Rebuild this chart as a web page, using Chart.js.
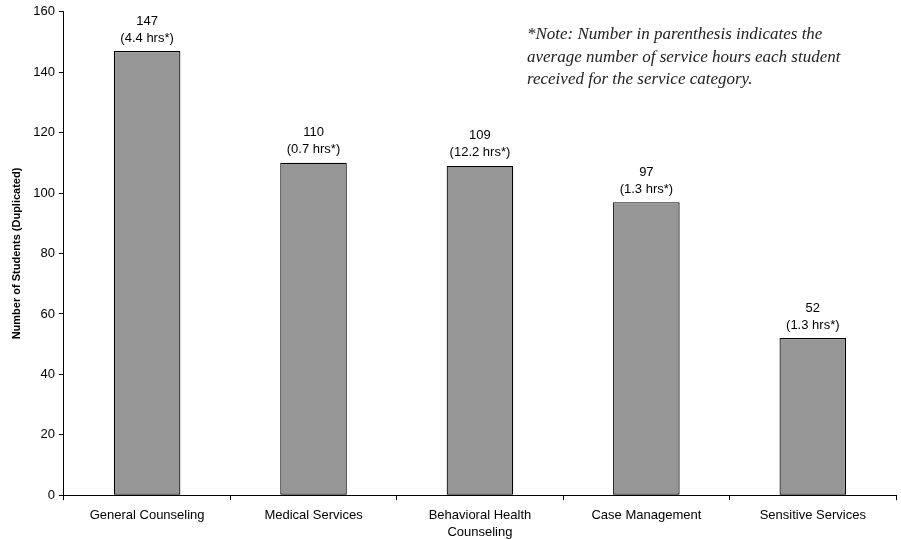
<!DOCTYPE html>
<html>
<head>
<meta charset="utf-8">
<script src="https://cdn.jsdelivr.net/npm/chart.js@4/dist/chart.umd.min.js"></script>
<style>
  html, body { margin: 0; padding: 0; background: #fff; }
  #wrap { width: 901px; height: 539px; }
</style>
</head>
<body>
<div id="wrap"><canvas id="graficoServicos"></canvas></div>
<script>
const categories = ['General Counseling', 'Medical Services', ['Behavioral Health', 'Counseling'], 'Case Management', 'Sensitive Services'];
const students = [147, 110, 109, 97, 52];
const avgHours = ['4.4', '0.7', '12.2', '1.3', '1.3'];
const noteLines = [
  '*Note: Number in parenthesis indicates the',
  'average number of service hours each student',
  'received for the service category.'
];

// labels above the bars: count + average hours
const barLabels = {
  id: 'barLabels',
  afterDatasetsDraw(chart) {
    const c = chart.ctx;
    const meta = chart.getDatasetMeta(0);
    c.save();
    c.font = '13px "Liberation Sans", Arial, sans-serif';
    c.fillStyle = '#000';
    c.textAlign = 'center';
    c.textBaseline = 'middle';
    meta.data.forEach((bar, i) => {
      c.fillText(String(students[i]), bar.x, bar.y - 30);
      c.fillText('(' + avgHours[i] + ' hrs*)', bar.x, bar.y - 13);
    });
    c.restore();
  }
};

const note = {
  id: 'note',
  afterDraw(chart) {
    const c = chart.ctx;
    c.save();
    c.font = 'italic 17px "Liberation Serif", "Times New Roman", serif';
    c.fillStyle = '#222';
    c.textAlign = 'left';
    c.textBaseline = 'middle';
    noteLines.forEach((t, i) => c.fillText(t, 527, 35 + i * 22.5));
    c.restore();
  }
};

const ctx = document.getElementById('graficoServicos');
new Chart(ctx, {
  type: 'bar',
  data: {
    labels: categories,
    datasets: [{
      data: students,
      backgroundColor: '#969696',
      borderColor: '#000',
      borderWidth: 1.2,
      borderSkipped: false,
      categoryPercentage: 1,
      barPercentage: 0.4
    }]
  },
  options: {
    responsive: true,
    maintainAspectRatio: false,
    animation: false,
    layout: { padding: { top: 5, right: 5, left: 6, bottom: -9 } },
    plugins: { legend: { display: false }, tooltip: { enabled: false } },
    scales: {
      x: {
        grid: { drawOnChartArea: false, drawTicks: true, tickLength: 5, color: '#000', offset: true },
        border: { color: '#000', width: 1 },
        ticks: { color: '#000', font: { family: '"Liberation Sans", Arial, sans-serif', size: 13, lineHeight: 1.3 }, maxRotation: 0, autoSkip: false, padding: 7 }
      },
      y: {
        min: 0,
        max: 160,
        grid: { drawOnChartArea: false, drawTicks: true, tickLength: 5, color: '#000' },
        border: { color: '#000', width: 1 },
        ticks: { stepSize: 20, color: '#000', font: { family: '"Liberation Sans", Arial, sans-serif', size: 13 }, padding: 4 },
        title: { display: true, text: 'Number of Students (Duplicated)', color: '#000', font: { family: '"Liberation Sans", Arial, sans-serif', size: 11, weight: 'bold' }, padding: { top: 4, bottom: 6 } }
      }
    }
  },
  plugins: [barLabels, note]
});
</script>
</body>
</html>
